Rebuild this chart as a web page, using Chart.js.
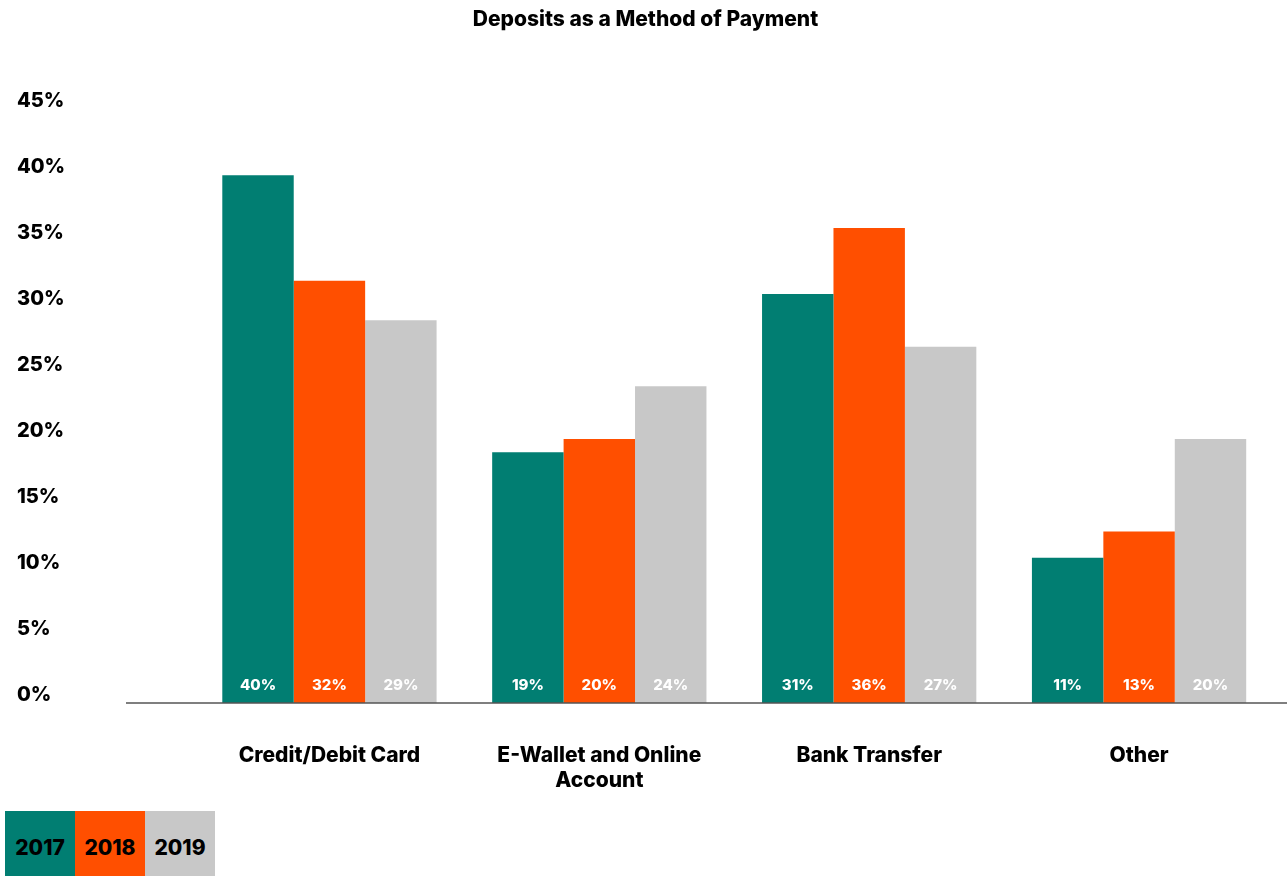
<!DOCTYPE html>
<html>
<head>
<meta charset="utf-8">
<script src="https://cdn.jsdelivr.net/npm/chart.js@4.4.1/dist/chart.umd.min.js"></script>
<style>
  html, body { margin: 0; padding: 0; background: #fff; }
  #wrap { position: relative; width: 1287px; height: 876px; }
  #legend { position: absolute; left: 5px; top: 811px; display: flex; }
  #legend div {
    width: 70px; height: 65px;
    font: 800 21px Inter, "Noto Sans", sans-serif; color: #000;
    line-height: 74px; text-align: center;
  }
</style>
</head>
<body>
<div id="wrap">
  <canvas id="chart" width="1287" height="876"></canvas>
  <div id="legend"></div>
</div>
<script>
// Dados
const categorias = ['Credit/Debit Card', ['E-Wallet and Online', 'Account'], 'Bank Transfer', 'Other'];
const anos = ['2017', '2018', '2019'];
const valores2017 = [40, 19, 31, 11];
const valores2018 = [32, 20, 36, 13];
const valores2019 = [29, 24, 27, 20];
const cores = ['#017E72', '#FF4F00', '#C8C8C8'];
const ticksY = [0, 5, 10, 15, 20, 25, 30, 35, 40, 45];

const fonte = 'Inter, "Noto Sans", sans-serif';

// Rótulos dentro das barras, perto da base
const rotulosBarras = {
  id: 'rotulosBarras',
  afterDatasetsDraw(chart) {
    const ctx = chart.ctx;
    ctx.save();
    ctx.font = '800 15px ' + fonte;
    ctx.fillStyle = '#fff';
    ctx.textAlign = 'center';
    ctx.textBaseline = 'middle';
    chart.data.datasets.forEach((ds, i) => {
      chart.getDatasetMeta(i).data.forEach((bar, j) => {
        ctx.fillText(ds.data[j] + '%', bar.x, bar.base - 18);
      });
    });
    ctx.restore();
  }
};

// Linha da base, mais larga que a área do gráfico
const linhaBase = {
  id: 'linhaBase',
  afterDatasetsDraw(chart) {
    const ctx = chart.ctx;
    const y = chart.scales.y.getPixelForValue(0);
    ctx.save();
    ctx.strokeStyle = '#555';
    ctx.lineWidth = 1.5;
    ctx.beginPath();
    ctx.moveTo(126, y);
    ctx.lineTo(chart.width, y);
    ctx.stroke();
    ctx.restore();
  }
};

const chart = new Chart(document.getElementById('chart'), {
  type: 'bar',
  data: {
    labels: categorias,
    datasets: [
      { label: anos[0], data: valores2017, backgroundColor: cores[0] },
      { label: anos[1], data: valores2018, backgroundColor: cores[1] },
      { label: anos[2], data: valores2019, backgroundColor: cores[2] }
    ]
  },
  options: {
    responsive: false,
    animation: false,
    layout: { padding: { left: 17, right: 13, top: 0, bottom: 0 } },
    datasets: { bar: { barPercentage: 1, categoryPercentage: 0.794 } },
    plugins: {
      legend: { display: false },
      tooltip: { enabled: false },
      title: {
        display: true,
        text: 'Deposits as a Method of Payment',
        color: '#000',
        font: { family: fonte, size: 21, weight: 800 },
        padding: { top: 7, bottom: 77 }
      }
    },
    scales: {
      x: {
        grid: { display: false, drawTicks: false },
        border: { display: false },
        ticks: {
          color: '#000',
          padding: 40,
          font: { family: fonte, size: 21, weight: 800, lineHeight: 1.2 }
        },
        afterFit(scale) { scale.height = 173; }
      },
      y: {
        min: 0,
        max: 45,
        afterBuildTicks(scale) { scale.ticks = ticksY.map(v => ({ value: v })); },
        grid: { display: false, drawTicks: false },
        border: { display: false },
        ticks: {
          color: '#000',
          crossAlign: 'far',
          labelOffset: -8,
          font: { family: fonte, size: 20, weight: 800 },
          callback: v => v + '%'
        },
        afterFit(scale) { scale.width = 177.5; }
      }
    }
  },
  plugins: [rotulosBarras, linhaBase]
});

// Legenda em blocos coloridos
const legenda = document.getElementById('legend');
anos.forEach((ano, i) => {
  const d = document.createElement('div');
  d.style.background = cores[i];
  d.textContent = ano;
  legenda.appendChild(d);
});
</script>
</body>
</html>
